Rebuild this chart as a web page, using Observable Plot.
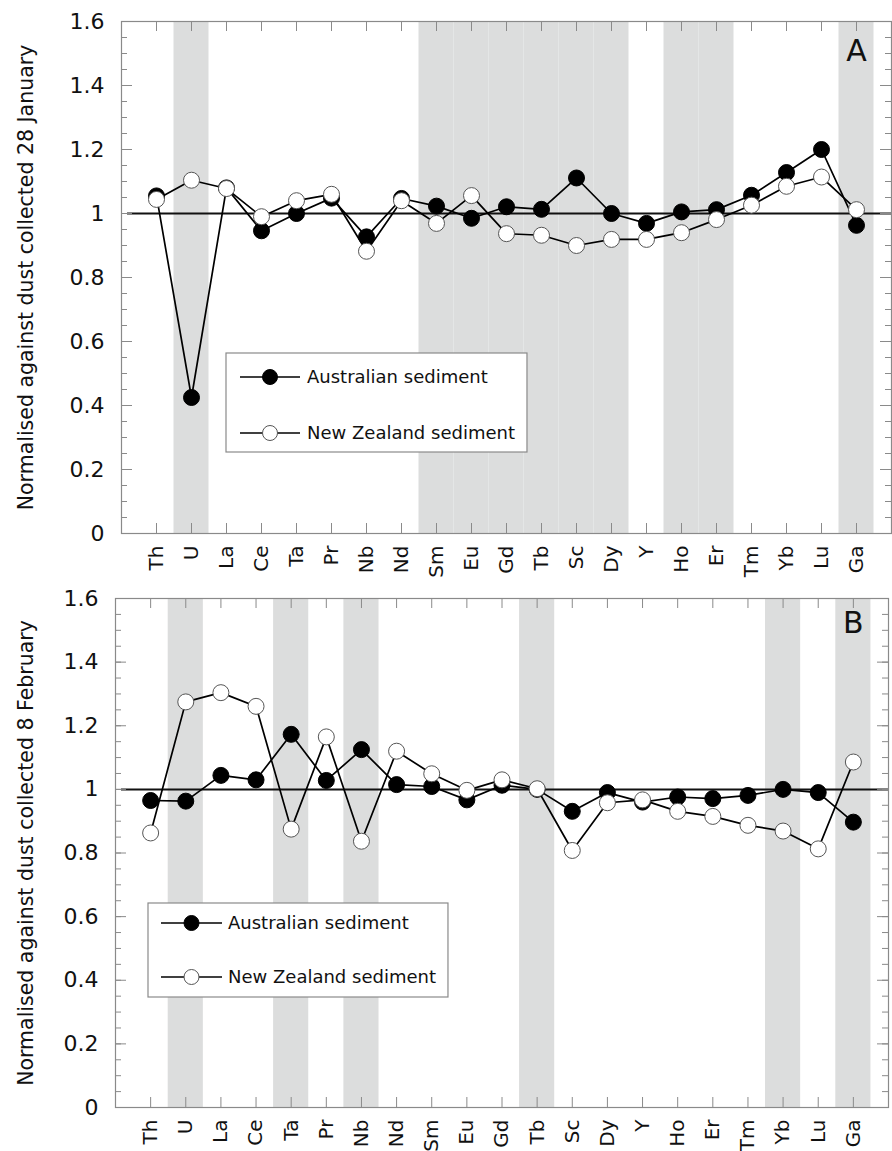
<!DOCTYPE html>
<html>
<head>
<meta charset="utf-8">
<script src="https://cdn.jsdelivr.net/npm/d3@7"></script>
<script src="https://cdn.jsdelivr.net/npm/@observablehq/plot@0.6"></script>
<style>
  html, body { margin: 0; padding: 0; background: #fff; }
  #wrap { position: relative; width: 892px; height: 1151px; overflow: hidden; font-family: "DejaVu Sans", sans-serif; }
  .panel { position: absolute; left: 0; }
  .legend { position: absolute; }
</style>
</head>
<body>
<div id="wrap"></div>
<script>
// ---------- data ----------
const categories = ["Th","U","La","Ce","Ta","Pr","Nb","Nd","Sm","Eu","Gd","Tb","Sc","Dy","Y","Ho","Er","Tm","Yb","Lu","Ga"];
const australianA = [1.055,0.425,1.08,0.946,1.0,1.048,0.927,1.047,1.023,0.985,1.021,1.013,1.111,1.0,0.969,1.005,1.012,1.057,1.128,1.2,0.963];
const newZealandA = [1.044,1.104,1.078,0.99,1.04,1.06,0.882,1.04,0.969,1.056,0.937,0.932,0.9,0.919,0.919,0.94,0.981,1.026,1.085,1.114,1.012];
const australianB = [0.965,0.963,1.044,1.03,1.173,1.028,1.125,1.015,1.009,0.967,1.013,1.0,0.931,0.99,0.96,0.976,0.971,0.981,1.0,0.99,0.897];
const newZealandB = [0.863,1.275,1.304,1.261,0.875,1.165,0.837,1.12,1.049,0.997,1.03,1.002,0.808,0.958,0.967,0.931,0.915,0.887,0.869,0.813,1.086];
const shadedA = ["U","Sm","Eu","Gd","Tb","Sc","Dy","Ho","Er","Ga"];
const shadedB = ["U","Ta","Nb","Tb","Yb","Ga"];
const yMajorTicks = [0,0.2,0.4,0.6,0.8,1,1.2,1.4,1.6];
const yMinorTicks = d3.range(0, 33).map(i => i * 0.05);
const seriesNames = ["Australian sediment","New Zealand sediment"];
const yLabelA = "Normalised against dust collected 28 January";
const yLabelB = "Normalised against dust collected 8 February";

const FONT = "DejaVu Sans, sans-serif";
const pos = c => categories.indexOf(c) + 1;

function panel({aus, nz, shaded, yLabel, letter, height, mt, mb, ml, mr, letterDy}) {
  const width = 892;
  const pw = width - ml - mr, ph = height - mt - mb;
  const rowsA = categories.map((c, i) => ({c, x: i + 1, y: aus[i]}));
  const rowsN = categories.map((c, i) => ({c, x: i + 1, y: nz[i]}));
  const gray = "#8a8a8a";
  return Plot.plot({
    width, height,
    marginTop: mt, marginBottom: mb, marginLeft: ml, marginRight: mr,
    style: {fontFamily: FONT, background: "transparent", overflow: "visible"},
    x: {domain: [0, categories.length + 1], axis: null},
    y: {domain: [0, 1.6], axis: null},
    marks: [
      Plot.rect(shaded, {x1: d => pos(d) - 0.5, x2: d => pos(d) + 0.5, fill: "#dcdddd"}),
      Plot.ruleY([1], {stroke: "#111", strokeWidth: 2, insetLeft: 6}),
      // ticks
      Plot.ruleY(yMinorTicks, {y: d => d, insetRight: pw - 6, stroke: gray}),
      Plot.ruleY(yMinorTicks, {y: d => d, insetLeft: pw - 6, stroke: gray}),
      Plot.ruleY(yMajorTicks, {y: d => d, insetRight: pw - 11, stroke: gray}),
      Plot.ruleY(yMajorTicks, {y: d => d, insetLeft: pw - 11, stroke: gray}),
      Plot.ruleX(categories, {x: (d, i) => i + 1, insetBottom: ph - 10, stroke: gray}),
      Plot.ruleX(categories, {x: (d, i) => i + 1, insetTop: ph - 10, stroke: gray}),
      Plot.frame({stroke: gray, strokeWidth: 1.2}),
      // series
      Plot.line(rowsA, {x: "x", y: "y", stroke: "#000", strokeWidth: 1.7}),
      Plot.dot(rowsA, {x: "x", y: "y", r: 8, fill: "#000", stroke: "#000", strokeWidth: 1}),
      Plot.line(rowsN, {x: "x", y: "y", stroke: "#000", strokeWidth: 1.7}),
      Plot.dot(rowsN, {x: "x", y: "y", r: 8, fill: "#fff", stroke: "#555", strokeWidth: 1}),
      // labels
      Plot.text(yMajorTicks, {y: d => d, text: d => d3.format(".1~f")(d), frameAnchor: "left", dx: -17, textAnchor: "end", fontSize: 22, fill: "#111"}),
      Plot.text(categories, {x: (d, i) => i + 1, text: d => d, frameAnchor: "bottom", dy: 12, rotate: -90, textAnchor: "end", lineAnchor: "middle", fontSize: 20, fill: "#111"}),
      Plot.text([yLabel], {frameAnchor: "left", dx: -(ml - 26), rotate: -90, textAnchor: "middle", lineAnchor: "middle", fontSize: 20.5, fill: "#111"}),
      Plot.text([letter], {x: () => pos("Ga"), frameAnchor: "top", dy: letterDy, textAnchor: "middle", lineAnchor: "middle", fontSize: 30, fill: "#111"})
    ]
  });
}

function legend({left, top, height, rows, lineX1, lineX2, textX}) {
  const svg = d3.create("svg").attr("class", "legend")
    .style("left", (left - 1) + "px").style("top", (top - 1) + "px")
    .attr("width", 600).attr("height", height + 2);
  const box = svg.append("rect").attr("x", 1).attr("y", 1).attr("height", height)
    .attr("fill", "#fff").attr("stroke", "#8a8a8a").attr("stroke-width", 1.2);
  const texts = [];
  seriesNames.forEach((name, i) => {
    const y = rows[i] - top + 1;
    svg.append("line").attr("x1", lineX1 - left + 1).attr("x2", lineX2 - left + 1).attr("y1", y).attr("y2", y)
      .attr("stroke", "#000").attr("stroke-width", 1.7);
    svg.append("circle").attr("cx", (lineX1 + lineX2) / 2 - left + 1).attr("cy", y).attr("r", 7.5)
      .attr("fill", i === 0 ? "#000" : "#fff").attr("stroke", i === 0 ? "#000" : "#555");
    texts.push(svg.append("text").attr("x", textX - left + 1).attr("y", y).attr("dy", "0.35em")
      .attr("font-family", FONT).attr("font-size", 18).attr("fill", "#111").text(name));
  });
  return {node: svg.node(), fit() {
    const w = d3.max(texts, t => t.node().getComputedTextLength());
    const boxW = (textX - left) + w + 12;
    box.attr("width", boxW);
    svg.attr("width", boxW + 2);
  }};
}

const wrap = document.getElementById("wrap");
const a = panel({aus: australianA, nz: newZealandA, shaded: shadedA, yLabel: yLabelA, letter: "A",
  height: 590, mt: 21, mb: 57, ml: 121, mr: 1, letterDy: 30});
a.classList.add("panel"); a.style.top = "0px";
wrap.appendChild(a);
const b = panel({aus: australianB, nz: newZealandB, shaded: shadedB, yLabel: yLabelB, letter: "B",
  height: 561, mt: 8, mb: 44, ml: 115, mr: 4, letterDy: 25});
b.classList.add("panel"); b.style.top = "590px";
wrap.appendChild(b);

const la = legend({left: 226, top: 353, height: 99, rows: [377, 433], lineX1: 240, lineX2: 300, textX: 307});
const lb = legend({left: 148, top: 903, height: 94, rows: [923, 977], lineX1: 161, lineX2: 222, textX: 228});
wrap.appendChild(la.node); wrap.appendChild(lb.node);
la.fit(); lb.fit();
</script>
</body>
</html>
